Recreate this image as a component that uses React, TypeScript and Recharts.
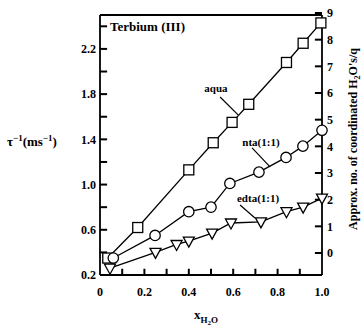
import React from 'react';
import { LineChart, Line, XAxis, YAxis, ReferenceLine, ReferenceDot } from 'recharts';

const aquaX = [0.035, 0.17, 0.40, 0.51, 0.595, 0.67, 0.84, 0.915, 0.995];
const aquaY = [0.35, 0.62, 1.13, 1.37, 1.55, 1.71, 2.08, 2.25, 2.43];
const ntaX = [0.06, 0.248, 0.40, 0.50, 0.585, 0.716, 0.838, 0.914, 1.0];
const ntaY = [0.35, 0.55, 0.76, 0.80, 1.01, 1.11, 1.24, 1.34, 1.48];
const edtaX = [0.045, 0.25, 0.345, 0.40, 0.505, 0.59, 0.725, 0.84, 0.915, 1.0];
const edtaY = [0.26, 0.40, 0.47, 0.50, 0.57, 0.66, 0.67, 0.76, 0.80, 0.88];

const xTicks = [0, 0.1, 0.2, 0.3, 0.4, 0.5, 0.6, 0.7, 0.8, 0.9, 1.0];
const leftTicks = [0.2, 0.4, 0.6, 0.8, 1.0, 1.2, 1.4, 1.6, 1.8, 2.0, 2.2, 2.4];
const rightTicks = [0, 1, 2, 3, 4, 5, 6, 7, 8, 9];

const X_DOMAIN: [number, number] = [0, 1];
const L_DOMAIN: [number, number] = [0.2, 2.5];
const R_DOMAIN: [number, number] = [-0.825, 8.925];

const FONT = '"Liberation Serif", "DejaVu Serif", serif';

// inward tick mark lengths, as fractions of each axis span
const TICK_FX = 0.032;
const TICK_FY = 0.024;

const toPts = (xs: number[], ys: number[]) => xs.map((x, i) => ({ x, y: ys[i] }));
const aquaData = toPts(aquaX, aquaY);
const ntaData = toPts(ntaX, ntaY);
const edtaData = toPts(edtaX, edtaY);

const near = (a: number, b: number) => Math.abs(a - b) < 1e-6;

const LeftTick = (p: any) => {
  const x = Number(p.x);
  const y = Number(p.y);
  const v = p.payload.value;
  const k = (v - 0.2) / 0.4;
  const show = near(k, Math.round(k)) && v < 2.3;
  if (!show) return <g />;
  return (
    <text x={x - 4} y={y} dy="0.36em" textAnchor="end" fontFamily={FONT} fontWeight="bold" fontSize={12} fill="#000">
      {v.toFixed(1)}
    </text>
  );
};

const BottomTick = (p: any) => {
  const x = Number(p.x);
  const y = Number(p.y);
  const v = p.payload.value;
  const k = v / 0.2;
  const show = near(k, Math.round(k));
  if (!show) return <g />;
  return (
    <text x={x} y={y + 21} textAnchor="middle" fontFamily={FONT} fontWeight="bold" fontSize={12} fill="#000">
      {near(v, 0) ? '0' : v.toFixed(1)}
    </text>
  );
};

const RightTick = (p: any) => {
  const x = Number(p.x);
  const y = Number(p.y);
  const v = p.payload.value;
  return (
    <text x={x + 5} y={y} dy="0.36em" textAnchor="start" fontFamily={FONT} fontWeight="bold" fontSize={12} fill="#000">
      {String(v)}
    </text>
  );
};

const Square = (p: any) => {
  const { cx, cy, key } = p;
  if (cx == null || cy == null) return <g key={key} />;
  return <rect key={key} x={cx - 5} y={cy - 5} width={10} height={10} fill="#fff" stroke="#000" strokeWidth={1.3} />;
};
const Circ = (p: any) => {
  const { cx, cy, key } = p;
  if (cx == null || cy == null) return <g key={key} />;
  return <circle key={key} cx={cx} cy={cy} r={5.2} fill="#fff" stroke="#000" strokeWidth={1.3} />;
};
const Tri = (p: any) => {
  const { cx, cy, key } = p;
  if (cx == null || cy == null) return <g key={key} />;
  const d = `M${cx - 5.5},${cy - 4} L${cx + 5.5},${cy - 4} L${cx},${cy + 6} Z`;
  return <path key={key} d={d} fill="#fff" stroke="#000" strokeWidth={1.3} />;
};

const txtLabel = (value: string, anchor: 'start' | 'middle' = 'middle', size = 11) => (props: any) => {
  const vb = props.viewBox || {};
  const cx = (vb.x ?? 0) + (vb.width ?? 0) / 2;
  const cy = (vb.y ?? 0) + (vb.height ?? 0) / 2;
  return (
    <text x={cx} y={cy} dy="0.35em" textAnchor={anchor} fontFamily={FONT} fontWeight="bold" fontSize={size} fill="#000">
      {value}
    </text>
  );
};

const LeftTitle = (props: any) => {
  const vb = props.viewBox || {};
  const cy = (vb.y ?? 0) + (vb.height ?? 0) / 2;
  return (
    <text x={7} y={cy + 1} fontFamily={FONT} fontWeight="bold" fontSize={13} fill="#000">
      <tspan>τ</tspan>
      <tspan fontSize={9} dy={-5}>−1</tspan>
      <tspan dy={5}>(ms</tspan>
      <tspan fontSize={9} dy={-5}>−1</tspan>
      <tspan dy={5}>)</tspan>
    </text>
  );
};

const BottomTitle = (props: any) => {
  const vb = props.viewBox || {};
  const cx = (vb.x ?? 0) + (vb.width ?? 0) / 2;
  return (
    <text x={cx - 5} y={(vb.y ?? 0) + 44} textAnchor="middle" fontFamily={FONT} fontWeight="bold" fontSize={13} fill="#000">
      <tspan>x</tspan>
      <tspan fontSize={9} dy={4}>H</tspan>
      <tspan fontSize={7} dy={2}>2</tspan>
      <tspan fontSize={9} dy={-2}>O</tspan>
    </text>
  );
};

const RightTitle = (props: any) => {
  const vb = props.viewBox || {};
  const cy = (vb.y ?? 0) + (vb.height ?? 0) / 2;
  const x = 357;
  const y = cy - 6;
  return (
    <text x={x} y={y} transform={`rotate(-90 ${x} ${y})`} textAnchor="middle" fontFamily={FONT} fontWeight="bold" fontSize={12} fill="#000">
      <tspan>Approx. no. of coordinated H</tspan>
      <tspan fontSize={8} dy={3}>2</tspan>
      <tspan dy={-3}>O's/q</tspan>
    </text>
  );
};

const axisStyle = { stroke: '#000', strokeWidth: 1.8 };

const xSpan = X_DOMAIN[1] - X_DOMAIN[0];
const lSpan = L_DOMAIN[1] - L_DOMAIN[0];

export default function App() {
  return (
    <div style={{ position: 'absolute', left: 0, top: 0, width: 363, height: 328, background: '#fff' }}>
      <LineChart width={363} height={328} margin={{ top: 0, right: 0, bottom: 0, left: 0 }}>
        <XAxis
          xAxisId="b"
          dataKey="x"
          type="number"
          domain={X_DOMAIN}
          ticks={xTicks}
          interval={0}
          height={53}
          tickSize={0}
          tickMargin={0}
          tickLine={false}
          tick={<BottomTick />}
          axisLine={axisStyle}
          label={{ content: BottomTitle }}
        />
        <XAxis
          xAxisId="t"
          orientation="top"
          type="number"
          domain={X_DOMAIN}
          height={15}
          tick={false}
          tickLine={false}
          axisLine={axisStyle}
        />
        <YAxis
          yAxisId="L"
          type="number"
          domain={L_DOMAIN}
          ticks={leftTicks}
          interval={0}
          width={100}
          tickSize={0}
          tickMargin={0}
          tickLine={false}
          tick={<LeftTick />}
          axisLine={axisStyle}
          label={{ content: LeftTitle }}
        />
        <YAxis
          yAxisId="R"
          orientation="right"
          type="number"
          domain={R_DOMAIN}
          allowDataOverflow
          ticks={rightTicks}
          interval={0}
          width={41}
          tickSize={0}
          tickMargin={0}
          tickLine={false}
          tick={<RightTick />}
          axisLine={axisStyle}
          label={{ content: RightTitle }}
        />

        {leftTicks.map((v) => (
          <ReferenceLine key={`lt${v}`} xAxisId="b" yAxisId="L" ifOverflow="visible"
            segment={[{ x: X_DOMAIN[0], y: v }, { x: X_DOMAIN[0] + TICK_FX * xSpan, y: v }]}
            stroke="#000" strokeWidth={2} />
        ))}
        {xTicks.filter((v) => v > 0.01 && v < 0.99).map((v) => (
          <ReferenceLine key={`bt${v}`} xAxisId="b" yAxisId="L" ifOverflow="visible"
            segment={[{ x: v, y: L_DOMAIN[0] }, { x: v, y: L_DOMAIN[0] + TICK_FY * lSpan }]}
            stroke="#000" strokeWidth={2} />
        ))}
        {rightTicks.map((v) => (
          <ReferenceLine key={`rt${v}`} xAxisId="b" yAxisId="R" ifOverflow="visible"
            segment={[{ x: X_DOMAIN[1] - TICK_FX * xSpan, y: v }, { x: X_DOMAIN[1], y: v }]}
            stroke="#000" strokeWidth={2} />
        ))}

        <Line data={aquaData} xAxisId="b" yAxisId="L" dataKey="y" stroke="#000" strokeWidth={1.3} dot={Square} isAnimationActive={false} />
        <Line data={ntaData} xAxisId="b" yAxisId="L" dataKey="y" stroke="#000" strokeWidth={1.3} dot={Circ} isAnimationActive={false} />
        <Line data={edtaData} xAxisId="b" yAxisId="L" dataKey="y" stroke="#000" strokeWidth={1.3} dot={Tri} isAnimationActive={false} />

        <ReferenceLine xAxisId="b" yAxisId="L" segment={[{ x: 0.541, y: 1.775 }, { x: 0.622, y: 1.616 }]} stroke="#000" strokeWidth={1.2} />
        <ReferenceLine xAxisId="b" yAxisId="L" segment={[{ x: 0.685, y: 1.324 }, { x: 0.766, y: 1.156 }]} stroke="#000" strokeWidth={1.2} />
        <ReferenceLine xAxisId="b" yAxisId="L" segment={[{ x: 0.631, y: 0.819 }, { x: 0.698, y: 0.704 }]} stroke="#000" strokeWidth={1.2} />

        <ReferenceDot xAxisId="b" yAxisId="L" x={0.5225} y={1.855} r={0} fill="none" stroke="none" label={{ content: txtLabel('aqua') }} />
        <ReferenceDot xAxisId="b" yAxisId="L" x={0.725} y={1.377} r={0} fill="none" stroke="none" label={{ content: txtLabel('nta(1:1)') }} />
        <ReferenceDot xAxisId="b" yAxisId="L" x={0.712} y={0.881} r={0} fill="none" stroke="none" label={{ content: txtLabel('edta(1:1)') }} />
        <ReferenceDot xAxisId="b" yAxisId="L" x={0.045} y={2.395} r={0} fill="none" stroke="none" label={{ content: txtLabel('Terbium (III)', 'start', 13) }} />
      </LineChart>
    </div>
  );
}
